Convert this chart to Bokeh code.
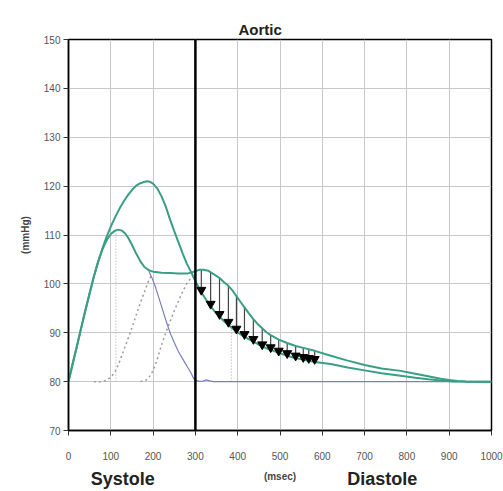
from bokeh.plotting import figure
from bokeh.models import Range1d, Span, FixedTicker, LinearAxis
from bokeh.embed import file_html
from bokeh.resources import INLINE

# ---------------- data ----------------
x_ticks = [0, 100, 200, 300, 400, 500, 600, 700, 800, 900, 1000]
y_ticks = [70, 80, 90, 100, 110, 120, 130, 140, 150]

# curve peaking at 111 mmHg, plateau, late bump, slow diastolic decay
tA = [0, 10, 20, 30, 40, 50, 60, 70, 80, 90, 100, 110, 118, 126, 134, 142, 150, 160, 170, 180,
      190, 200, 220, 240, 260, 280, 290, 300, 310, 320, 330, 343, 357, 367, 378, 388, 397, 406,
      416, 426, 437, 447, 458, 468, 478, 497, 517, 537, 555, 582, 620, 660, 700, 740, 785, 820,
      850, 880, 900, 920, 940, 960, 1000]
pA = [80, 83.7, 87.3, 91, 94.6, 98.1, 101.5, 104.5, 107, 108.9, 110.2, 110.9, 111.1, 110.9, 110.3,
      109.3, 108, 106.2, 104.6, 103.4, 102.8, 102.5, 102.3, 102.2, 102.1, 102.1, 102.3, 102.6,
      102.9, 102.9, 102.7, 102.0, 101.2, 100.4, 99.6, 98.6, 97.5, 96.4, 95.2, 94.0, 92.8, 91.8,
      90.9, 90.1, 89.5, 88.6, 87.9, 87.3, 86.9, 86.3, 85.3, 84.3, 83.4, 82.7, 82.2, 81.6, 81.1,
      80.6, 80.35, 80.15, 80.05, 80, 80]

# curve peaking at 121 mmHg, fast diastolic decay
tB = [0, 10, 20, 30, 40, 50, 60, 70, 80, 90, 100, 110, 120, 130, 140, 150, 160, 170, 180, 186,
      192, 200, 210, 220, 230, 240, 250, 260, 270, 280, 290, 300, 307, 314, 325, 336, 346, 357,
      367, 378, 388, 397, 406, 416, 426, 437, 447, 458, 468, 478, 497, 517, 537, 555, 582, 620,
      660, 700, 740, 785, 820, 850, 880, 910, 940, 1000]
pB = [80, 83.7, 87.3, 91, 94.6, 98.1, 101.5, 104.5, 107.2, 109.6, 111.7, 113.6, 115.3, 116.8,
      118.1, 119.2, 120.1, 120.6, 120.9, 121.0, 120.9, 120.5, 119.5, 117.9, 115.8, 113.2, 110.8,
      108.5, 106.2, 104.1, 102.4, 100.6, 99.4, 98.3, 96.8, 95.4, 94.3, 93.3, 92.4, 91.6, 90.9,
      90.3, 89.7, 89.2, 88.7, 88.2, 87.7, 87.2, 86.8, 86.5, 85.9, 85.3, 84.8, 84.5, 84.0, 83.6,
      82.9, 82.3, 81.7, 81.2, 80.8, 80.5, 80.25, 80.05, 80, 80]

# thin blue wave
tBlue = [190, 198, 205, 212, 220, 230, 241, 250, 260, 273, 282, 290, 296, 303, 310, 318, 326,
         334, 342, 1000]
pBlue = [102.6, 101.1, 99.5, 97.6, 95.4, 92.6, 89.8, 88.0, 86.1, 84.2, 82.9, 81.7, 80.6, 80.2,
         80.05, 80.1, 80.35, 80.15, 80, 80]

# grey dotted waves
tDot1 = [60, 80, 90, 100, 110, 115, 120, 127, 139, 150, 158, 168, 178, 188, 197]
pDot1 = [80, 80, 80.3, 80.9, 82, 82.9, 83.9, 85.6, 88.4, 91, 93.1, 95.7, 98, 100.3, 102]
tDot2 = [170, 185, 195, 205, 212, 218, 230, 241, 250, 261, 271, 281, 290, 300]
pDot2 = [80, 80.4, 81.4, 83.3, 85.2, 87, 90, 92.5, 94.5, 96.7, 98.6, 100.3, 101.2, 101.6]

# vertical dotted markers
vdot_t = [112, 385]
vdot_top = [111, 91.8]

# arrows (triangles) and the tops of their shafts
tri_t = [314, 336, 357, 378, 397, 416, 437, 458, 478, 497, 517, 537, 555, 568, 582]
tri_p = [98.75, 95.9, 93.8, 92.2, 90.8, 89.7, 88.7, 87.6, 87.0, 86.3, 85.8, 85.3, 85.0, 84.8, 84.6]
shaft_top = [102.9, 102.3, 101.2, 99.6, 97.5, 95.2, 92.8, 90.9, 89.5, 88.6, 87.9, 87.3, 86.9,
             86.6, 86.3]

phase_x = [128, 742]
phase_names = ["Systole", "Diastole"]

# ---------------- figure ----------------
p = figure(width=503, height=491, output_backend="svg", toolbar_location=None,
           x_range=Range1d(0, 1000), y_range=Range1d(70, 150),
           min_border_left=68, min_border_right=12, min_border_top=39, min_border_bottom=61)
p.background_fill_color = "white"
p.border_fill_color = "white"
p.outline_line_color = "black"
p.outline_line_width = 1.5

p.title.text = "Aortic"
p.title.align = "left"
p.title.offset = 170
p.title.standoff = 4
p.title.text_font = "Liberation Sans"
p.title.text_font_style = "bold"
p.title.text_font_size = "15px"
p.title.text_color = "#222222"

p.xaxis.ticker = FixedTicker(ticks=x_ticks)
p.yaxis.ticker = FixedTicker(ticks=y_ticks)
for ax in (p.xaxis, p.yaxis):
    ax.axis_line_color = "black"
    ax.axis_line_width = 1.5
    ax.major_tick_line_color = "#333333"
    ax.minor_tick_line_color = None
    ax.major_tick_in = 0
    ax.major_tick_out = 5
    ax.major_label_text_font = "Liberation Sans"
    ax.major_label_text_font_size = "10px"
    ax.major_label_text_color = "#555555"
    ax.axis_label_text_font = "Liberation Sans"
    ax.axis_label_text_font_style = "bold"
    ax.axis_label_text_font_size = "10px"
    ax.axis_label_text_color = "#444444"
p.xaxis.major_label_standoff = 16
p.yaxis.major_label_standoff = 3
p.xaxis.axis_label = "(msec)"
p.xaxis.axis_label_standoff = 8
p.yaxis.axis_label = "(mmHg)"
p.yaxis.axis_label_standoff = 10

# second bottom axis carrying the phase names
phase_axis = LinearAxis(ticker=FixedTicker(ticks=phase_x),
                        major_label_overrides={xv: n for xv, n in zip(phase_x, phase_names)})
phase_axis.axis_line_color = None
phase_axis.major_tick_line_color = None
phase_axis.minor_tick_line_color = None
phase_axis.major_tick_in = 0
phase_axis.major_tick_out = 0
phase_axis.major_label_standoff = -16
phase_axis.major_label_text_font = "Liberation Sans"
phase_axis.major_label_text_font_style = "bold"
phase_axis.major_label_text_font_size = "18px"
phase_axis.major_label_text_color = "#222222"
p.add_layout(phase_axis, "below")

p.xgrid.grid_line_color = "#c8c8c8"
p.ygrid.grid_line_color = "#c8c8c8"
p.xgrid.grid_line_width = 1
p.ygrid.grid_line_width = 1

green = "#3a9e84"

# dotted grey waves
p.line(tDot1, pDot1, line_color="#999999", line_width=1.5, line_dash="2 3")
p.line(tDot2, pDot2, line_color="#999999", line_width=1.5, line_dash="2 3")
p.segment(x0=vdot_t, y0=[80] * len(vdot_t), x1=vdot_t, y1=vdot_top,
          line_color="#aaaaaa", line_width=1, line_dash="1 2")

# blue wave
p.line(tBlue, pBlue, line_color="#7a7fc4", line_width=1.2)

# arrow shafts
p.segment(x0=tri_t, y0=shaft_top, x1=tri_t, y1=tri_p, line_color="#444444", line_width=1.2)

# green curves
p.line(tA, pA, line_color=green, line_width=2)
p.line(tB, pB, line_color=green, line_width=2)

# arrow heads
p.scatter(tri_t, tri_p, marker="inverted_triangle", size=9, fill_color="black",
          line_color="black")

# systole / diastole boundary
p.add_layout(Span(location=300, dimension="height", line_color="black", line_width=2.5))

open("out.html", "w").write(file_html(p, INLINE))
